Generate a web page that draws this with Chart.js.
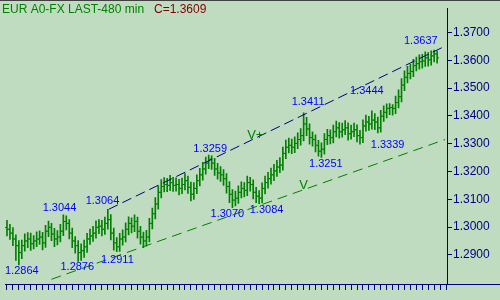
<!DOCTYPE html>
<html>
<head>
<meta charset="utf-8">
<script src="https://cdn.jsdelivr.net/npm/chart.js@4.4.1/dist/chart.umd.min.js"></script>
<style>
  html, body { margin: 0; padding: 0; background: #c0dcc0; }
  canvas { display: block; }
</style>
</head>
<body>
<canvas id="fx" width="500" height="300"></canvas>
<script>
// 480 min bars, EUR A0-FX
var opens = [
  1.2998, 1.2992, 1.2978, 1.2957, 1.2933, 1.2908, 1.2933, 1.2950, 1.2957, 1.2940,
  1.2950, 1.2957, 1.2964, 1.2943, 1.2985, 1.2999, 1.2975, 1.2957, 1.2964, 1.2985,
  1.3020, 1.3013, 1.2978, 1.2950, 1.2933, 1.2908, 1.2915, 1.2929, 1.2957, 1.2968,
  1.2978, 1.2999, 1.3003, 1.2992, 1.3013, 1.3027, 1.2978, 1.2943, 1.2929, 1.2957,
  1.2964, 1.2992, 1.3013, 1.3003, 1.3020, 1.2985, 1.2964, 1.2950, 1.2964, 1.3013,
  1.3048, 1.3083, 1.3125, 1.3146, 1.3153, 1.3150, 1.3160, 1.3150, 1.3153, 1.3139,
  1.3153, 1.3167, 1.3143, 1.3118, 1.3139, 1.3167, 1.3188, 1.3209, 1.3230, 1.3244,
  1.3230, 1.3209, 1.3195, 1.3188, 1.3174, 1.3146, 1.3118, 1.3097, 1.3104, 1.3125,
  1.3139, 1.3132, 1.3160, 1.3153, 1.3125, 1.3111, 1.3104, 1.3139, 1.3160, 1.3174,
  1.3188, 1.3202, 1.3216, 1.3223, 1.3265, 1.3287, 1.3294, 1.3287, 1.3301, 1.3315,
  1.3329, 1.3371, 1.3353, 1.3322, 1.3315, 1.3294, 1.3273, 1.3280, 1.3315, 1.3329,
  1.3322, 1.3343, 1.3357, 1.3343, 1.3350, 1.3357, 1.3336, 1.3343, 1.3350, 1.3329,
  1.3322, 1.3364, 1.3378, 1.3371, 1.3385, 1.3378, 1.3357, 1.3399, 1.3413, 1.3427,
  1.3430, 1.3427, 1.3448, 1.3469, 1.3511, 1.3539, 1.3553, 1.3560, 1.3581, 1.3588,
  1.3595, 1.3598, 1.3609, 1.3602, 1.3616, 1.3623
];
var highs = [
  1.3024, 1.3010, 1.2998, 1.2972, 1.2951, 1.2953, 1.2976, 1.2980, 1.2978, 1.2969,
  1.2983, 1.2986, 1.2981, 1.3006, 1.3021, 1.3013, 1.2995, 1.2987, 1.3010, 1.3044,
  1.3040, 1.3027, 1.2996, 1.2966, 1.2951, 1.2940, 1.2953, 1.2977, 1.2993, 1.3003,
  1.3022, 1.3027, 1.3024, 1.3036, 1.3064, 1.3045, 1.2996, 1.2962, 1.2977, 1.2990,
  1.3015, 1.3037, 1.3033, 1.3044, 1.3036, 1.3003, 1.2982, 1.2988, 1.3031, 1.3068,
  1.3106, 1.3148, 1.3171, 1.3178, 1.3175, 1.3186, 1.3179, 1.3177, 1.3172, 1.3176,
  1.3192, 1.3183, 1.3162, 1.3160, 1.3188, 1.3211, 1.3233, 1.3252, 1.3259, 1.3256,
  1.3247, 1.3229, 1.3218, 1.3207, 1.3192, 1.3164, 1.3135, 1.3129, 1.3148, 1.3163,
  1.3160, 1.3183, 1.3179, 1.3170, 1.3143, 1.3131, 1.3159, 1.3183, 1.3197, 1.3212,
  1.3226, 1.3240, 1.3250, 1.3288, 1.3313, 1.3320, 1.3317, 1.3325, 1.3339, 1.3354,
  1.3411, 1.3395, 1.3371, 1.3343, 1.3332, 1.3312, 1.3303, 1.3336, 1.3352, 1.3350,
  1.3367, 1.3381, 1.3376, 1.3374, 1.3383, 1.3375, 1.3367, 1.3374, 1.3368, 1.3348,
  1.3386, 1.3403, 1.3398, 1.3418, 1.3408, 1.3396, 1.3420, 1.3436, 1.3443, 1.3444,
  1.3441, 1.3471, 1.3494, 1.3534, 1.3562, 1.3578, 1.3586, 1.3604, 1.3612, 1.3620,
  1.3622, 1.3631, 1.3628, 1.3634, 1.3637, 1.3633
];
var lows = [
  1.2968, 1.2955, 1.2933, 1.2880, 1.2864, 1.2886, 1.2913, 1.2926, 1.2916, 1.2921,
  1.2929, 1.2937, 1.2918, 1.2927, 1.2965, 1.2951, 1.2929, 1.2936, 1.2946, 1.2969,
  1.2990, 1.2957, 1.2926, 1.2906, 1.2876, 1.2880, 1.2891, 1.2909, 1.2937, 1.2948,
  1.2960, 1.2976, 1.2968, 1.2973, 1.2992, 1.2954, 1.2917, 1.2911, 1.2912, 1.2935,
  1.2946, 1.2972, 1.2979, 1.2983, 1.2960, 1.2938, 1.2926, 1.2931, 1.2946, 1.2993,
  1.3029, 1.3064, 1.3105, 1.3126, 1.3127, 1.3131, 1.3128, 1.3129, 1.3116, 1.3120,
  1.3134, 1.3121, 1.3094, 1.3099, 1.3120, 1.3148, 1.3169, 1.3190, 1.3210, 1.3207,
  1.3186, 1.3172, 1.3164, 1.3150, 1.3122, 1.3088, 1.3070, 1.3076, 1.3085, 1.3105,
  1.3108, 1.3113, 1.3129, 1.3101, 1.3088, 1.3084, 1.3087, 1.3119, 1.3140, 1.3154,
  1.3167, 1.3182, 1.3196, 1.3205, 1.3246, 1.3267, 1.3264, 1.3268, 1.3282, 1.3295,
  1.3310, 1.3329, 1.3298, 1.3291, 1.3270, 1.3255, 1.3251, 1.3262, 1.3296, 1.3299,
  1.3303, 1.3324, 1.3320, 1.3323, 1.3332, 1.3313, 1.3316, 1.3325, 1.3306, 1.3298,
  1.3304, 1.3345, 1.3348, 1.3352, 1.3350, 1.3339, 1.3341, 1.3380, 1.3393, 1.3404,
  1.3403, 1.3408, 1.3429, 1.3450, 1.3491, 1.3519, 1.3533, 1.3541, 1.3562, 1.3568,
  1.3572, 1.3578, 1.3579, 1.3583, 1.3594, 1.3590
];
var closes = [
  1.2992, 1.2978, 1.2957, 1.2933, 1.2908, 1.2933, 1.2950, 1.2957, 1.2940, 1.2950,
  1.2957, 1.2964, 1.2943, 1.2985, 1.2999, 1.2975, 1.2957, 1.2964, 1.2985, 1.3020,
  1.3013, 1.2978, 1.2950, 1.2933, 1.2908, 1.2915, 1.2929, 1.2957, 1.2968, 1.2978,
  1.2999, 1.3003, 1.2992, 1.3013, 1.3027, 1.2978, 1.2943, 1.2929, 1.2957, 1.2964,
  1.2992, 1.3013, 1.3003, 1.3020, 1.2985, 1.2964, 1.2950, 1.2964, 1.3013, 1.3048,
  1.3083, 1.3125, 1.3146, 1.3153, 1.3150, 1.3160, 1.3150, 1.3153, 1.3139, 1.3153,
  1.3167, 1.3143, 1.3118, 1.3139, 1.3167, 1.3188, 1.3209, 1.3230, 1.3244, 1.3230,
  1.3209, 1.3195, 1.3188, 1.3174, 1.3146, 1.3118, 1.3097, 1.3104, 1.3125, 1.3139,
  1.3132, 1.3160, 1.3153, 1.3125, 1.3111, 1.3104, 1.3139, 1.3160, 1.3174, 1.3188,
  1.3202, 1.3216, 1.3223, 1.3265, 1.3287, 1.3294, 1.3287, 1.3301, 1.3315, 1.3329,
  1.3371, 1.3353, 1.3322, 1.3315, 1.3294, 1.3273, 1.3280, 1.3315, 1.3329, 1.3322,
  1.3343, 1.3357, 1.3343, 1.3350, 1.3357, 1.3336, 1.3343, 1.3350, 1.3329, 1.3322,
  1.3364, 1.3378, 1.3371, 1.3385, 1.3378, 1.3357, 1.3399, 1.3413, 1.3427, 1.3430,
  1.3427, 1.3448, 1.3469, 1.3511, 1.3539, 1.3553, 1.3560, 1.3581, 1.3588, 1.3595,
  1.3598, 1.3609, 1.3602, 1.3616, 1.3623, 1.3609
];

var yTicks = [1.2900, 1.3000, 1.3100, 1.3200, 1.3300, 1.3400, 1.3500, 1.3600, 1.3700];

// price notes: text, bar position, price level
var noteText  = ['1.2864', '1.3044', '1.2876', '1.3064', '1.2911', '1.3259', '1.3070', '1.3084', '1.3411', '1.3444', '1.3251', '1.3339', '1.3637'];
var noteBar   = [5, 17.7, 23.7, 32.2, 37.2, 68.5, 74.3, 87.5, 101.5, 121.3, 107.5, 128.3, 139.5];
var notePrice = [1.2842, 1.3069, 1.2856, 1.3094, 1.2880, 1.3281, 1.3048, 1.3062, 1.3451, 1.3490, 1.3227, 1.3297, 1.3668];

// channel lines
var upperBars = [34.33, 147.67];
var upperPrices = [1.3064, 1.3651];
var lowerBars = [15, 147.67];
var lowerPrices = [1.2812, 1.3315];
var channelText = ['V+', 'V'];
var channelBar = [83.7, 100];
var channelPrice = [1.3329, 1.3150];

var lastClose = closes[closes.length - 1];
var green = '#008000';
var navy = '#000080';
var fontFam = '"Liberation Sans", Arial, sans-serif';

function pairs(xs, ys) {
  return xs.map(function (x, i) { return { x: x, y: ys[i] }; });
}

var decor = {
  id: 'decor',
  beforeDraw: function (chart) {
    var c = chart.ctx;
    c.save();
    c.fillStyle = '#c0dcc0';
    c.fillRect(0, 0, chart.width, chart.height);
    c.restore();
  },
  afterDatasetsDraw: function (chart) {
    var c = chart.ctx;
    var xs = chart.scales.x, ys = chart.scales.y;
    c.save();
    c.textAlign = 'center';
    c.textBaseline = 'middle';
    c.font = '11px ' + fontFam;
    c.fillStyle = '#0000ff';
    noteText.forEach(function (t, i) {
      c.fillText(t, xs.getPixelForValue(noteBar[i]), ys.getPixelForValue(notePrice[i]));
    });
    c.font = '13px ' + fontFam;
    c.fillStyle = green;
    channelText.forEach(function (t, i) {
      c.fillText(t, xs.getPixelForValue(channelBar[i]), ys.getPixelForValue(channelPrice[i]));
    });
    c.restore();
  },
  afterDraw: function (chart) {
    var c = chart.ctx;
    var a = chart.chartArea;
    c.save();
    c.strokeStyle = navy;
    c.lineWidth = 1;
    c.beginPath();
    c.moveTo(a.right, Math.round(a.bottom) + 0.5);
    c.lineTo(chart.width, Math.round(a.bottom) + 0.5);
    c.stroke();
    c.strokeStyle = '#404040';
    c.beginPath();
    c.moveTo(0, 0.5);
    c.lineTo(chart.width, 0.5);
    c.stroke();
    c.font = '12px ' + fontFam;
    c.textBaseline = 'alphabetic';
    c.fillStyle = green;
    c.fillText('EUR A0-FX LAST-480 min', 2, 13);
    c.fillStyle = '#800000';
    c.fillText('C=' + lastClose.toFixed(4), 154, 13);
    c.restore();
  }
};

new Chart(document.getElementById('fx'), {
  type: 'bar',
  data: {
    datasets: [
      { type: 'line', data: pairs(upperBars, upperPrices), borderColor: navy, borderWidth: 1,
        borderDash: [10, 5], pointRadius: 0, fill: false },
      { type: 'line', data: pairs(lowerBars, lowerPrices), borderColor: green, borderWidth: 1,
        borderDash: [10, 6], pointRadius: 0, fill: false },
      { type: 'bar', data: highs.map(function (h, i) { return { x: i, y: [lows[i], h] }; }),
        backgroundColor: green, barThickness: 1, grouped: false },
      { type: 'line', data: opens.map(function (o, i) { return { x: i, y: o }; }), showLine: false,
        pointStyle: 'dash', pointRadius: 2, rotation: 180, pointBorderColor: green, pointBorderWidth: 1 },
      { type: 'line', data: closes.map(function (v, i) { return { x: i, y: v }; }), showLine: false,
        pointStyle: 'dash', pointRadius: 2, rotation: 0, pointBorderColor: green, pointBorderWidth: 1 }
    ]
  },
  options: {
    responsive: false,
    animation: false,
    events: [],
    devicePixelRatio: 1,
    layout: { padding: { top: 1, left: 0, right: 0, bottom: 0 } },
    plugins: { legend: { display: false }, tooltip: { enabled: false } },
    scales: {
      x: {
        type: 'linear', min: -0.667, max: 148.33, offset: false,
        afterBuildTicks: function (s) {
          var t = [];
          for (var v = 1; v <= 147; v += 2) t.push({ value: v });
          s.ticks = t;
        },
        afterFit: function (s) { s.height = 16; },
        ticks: { display: false },
        grid: { drawOnChartArea: false, drawTicks: true, tickLength: 6, color: navy },
        border: { color: navy }
      },
      y: {
        position: 'right', min: 1.2795, max: 1.37876,
        afterBuildTicks: function (s) {
          s.ticks = yTicks.map(function (v) { return { value: v }; });
        },
        afterFit: function (s) { s.width = 53; },
        ticks: {
          color: navy, padding: 1,
          font: { family: fontFam, size: 12 },
          callback: function (v) { return Number(v).toFixed(4); }
        },
        grid: { drawOnChartArea: false, drawTicks: true, tickLength: 5, color: navy },
        border: { color: navy }
      }
    }
  },
  plugins: [decor]
});
</script>
</body>
</html>
